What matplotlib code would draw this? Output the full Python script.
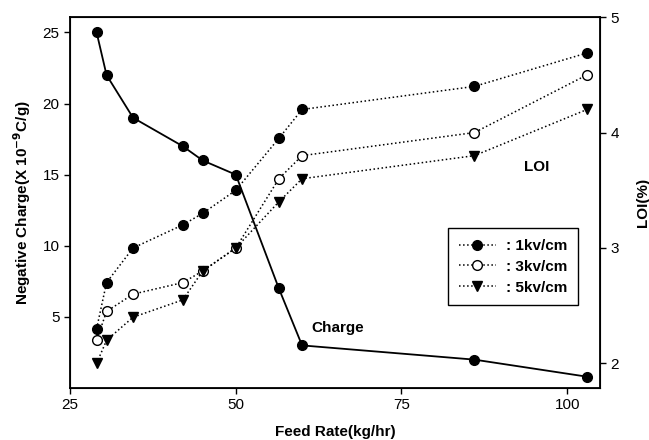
import numpy as np
import matplotlib
matplotlib.use("Agg")
import matplotlib.pyplot as plt

# feed rate (kg/hr)
feed = [29, 30.5, 34.5, 42, 45, 50, 56.5, 60, 86, 103]
# negative charge (x 10^-9 C/g)
charge = [25, 22, 19, 17, 16, 15, 7, 3, 2, 0.8]
# LOI (%) for each field strength
loi_1kv = [2.3, 2.7, 3.0, 3.2, 3.3, 3.5, 3.95, 4.2, 4.4, 4.69]
loi_3kv = [2.2, 2.45, 2.6, 2.7, 2.8, 3.0, 3.6, 3.8, 4.0, 4.5]
loi_5kv = [2.0, 2.2, 2.4, 2.55, 2.8, 3.0, 3.4, 3.6, 3.8, 4.2]
labels = [': 1kv/cm', ': 3kv/cm', ': 5kv/cm']

plt.rcParams['font.family'] = ['Liberation Sans', 'DejaVu Sans']

fig = plt.figure(figsize=(6.49, 4.4), dpi=100)
ax = fig.add_axes([0.108, 0.118, 0.817, 0.843])
ax.plot(feed, charge, '-', color='black', lw=1.3, marker='o', ms=7, mfc='black', zorder=3)
ax.set_xlim(25, 105)
ax.set_ylim(0, 26.07)
ax.set_xticks([25, 50, 75, 100])
ax.set_yticks([5, 10, 15, 20, 25])
ax.tick_params(labelsize=11, direction='out', length=4, width=1)
ax.set_xlabel('Feed Rate(kg/hr)', fontsize=11, fontweight='bold', labelpad=9)
ax.set_ylabel('Negative Charge(X 10$^{\\mathbf{-9}}$C/g)', fontsize=11, fontweight='bold', labelpad=7)
for s in ax.spines.values():
    s.set_linewidth(1.3)

ax2 = ax.twinx()
h1, = ax2.plot(feed, loi_1kv, ':', color='black', lw=1.1, marker='o', ms=7, mfc='black', mec='black')
h2, = ax2.plot(feed, loi_3kv, ':', color='black', lw=1.1, marker='o', ms=7, mfc='white', mec='black')
h3, = ax2.plot(feed, loi_5kv, ':', color='black', lw=1.1, marker='v', ms=7, mfc='black', mec='black')
ax2.set_ylim(1.786, 5.0)
ax2.set_yticks([2, 3, 4, 5])
ax2.tick_params(labelsize=11, direction='out', length=4, width=1)
ax2.set_ylabel('LOI(%)', fontsize=11, fontweight='bold', labelpad=12)

ax.text(61.4, 4.2, 'Charge', fontsize=11, fontweight='bold', va='center')
ax.text(95.4, 15.55, 'LOI', fontsize=11, fontweight='bold', va='center', ha='center')

leg = ax2.legend([h1, h2, h3], labels, loc='upper left', bbox_to_anchor=(0.713, 0.431),
                 borderaxespad=0, prop={'weight': 'bold', 'size': 11}, fancybox=False,
                 framealpha=1, edgecolor='black', handlelength=2.4, handletextpad=0.7,
                 borderpad=0.7, labelspacing=0.45)
leg.get_frame().set_linewidth(1.0)

fig.savefig('out.png', dpi=100)
